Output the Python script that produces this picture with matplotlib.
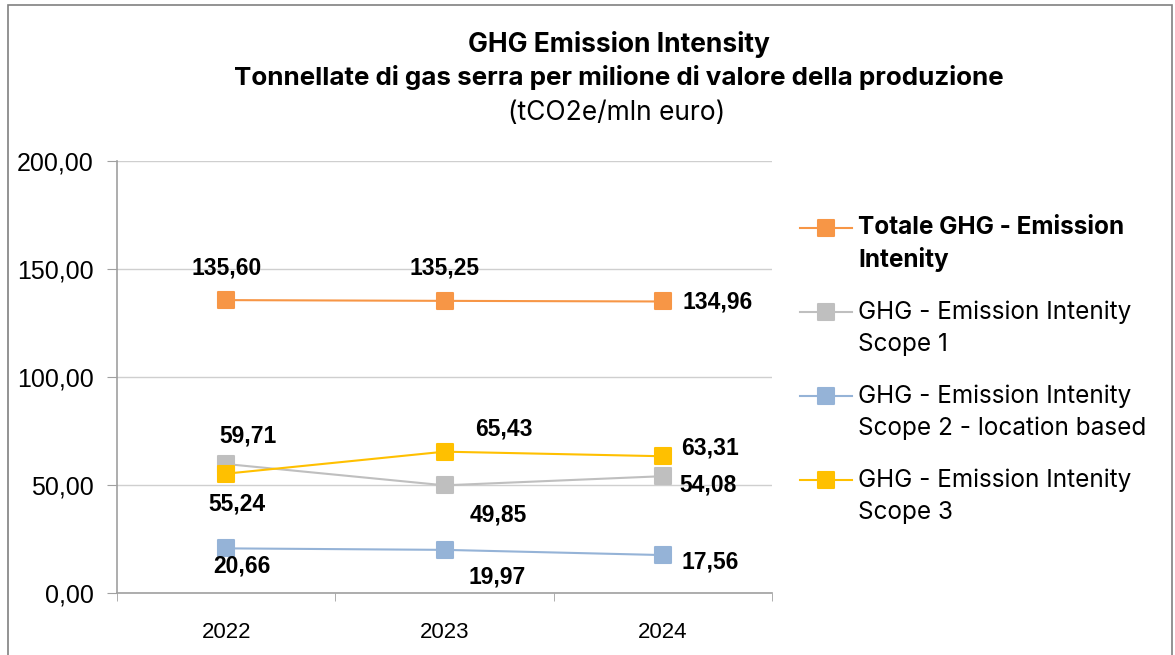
import numpy as np
import matplotlib.pyplot as plt
from matplotlib.lines import Line2D
from matplotlib.markers import MarkerStyle
from matplotlib.patches import Rectangle

years = ["2022", "2023", "2024"]
totale = [135.60, 135.25, 134.96]
scope1 = [59.71, 49.85, 54.08]
scope2 = [20.66, 19.97, 17.56]
scope3 = [55.24, 65.43, 63.31]

series_names = [
    ["Totale GHG - Emission", "Intenity"],
    ["GHG - Emission Intenity", "Scope 1"],
    ["GHG - Emission Intenity", "Scope 2 - location based"],
    ["GHG - Emission Intenity", "Scope 3"],
]
colors = ["#F79646", "#BFBFBF", "#95B3D7", "#FFC000"]

# label offsets in pixels (dx, dy) and horizontal alignment, per series
label_pos = [
    [(0, 32, "center"), (0, 33, "center"), (20, -1, "left")],
    [(22, 28, "center"), (54, -30, "center"), (17, -9, "left")],
    [(16, -18, "center"), (53, -27, "center"), (19, -7, "left")],
    [(11, -30, "center"), (59, 23, "center"), (18, 8, "left")],
]

title_font = ["Inter", "DejaVu Sans"]
num_font = ["Liberation Sans", "DejaVu Sans"]

fig = plt.figure(figsize=(11.75, 6.55), dpi=100)
ax = fig.add_axes([117 / 1175, 1 - 593 / 655, 655 / 1175, 432 / 655])

x = np.arange(len(years))
data = [totale, scope1, scope2, scope3]
marker = MarkerStyle("s", joinstyle="round")

def fmt(v):
    return f"{v:.2f}".replace(".", ",")

for vals, col, pos in zip(data, colors, label_pos):
    ax.plot(x, vals, color=col, lw=1.5, marker=marker, ms=11.5, mec=col, mew=1.5,
            zorder=3, clip_on=False)
    for xi, v, (dx, dy, ha) in zip(x, vals, pos):
        ax.annotate(fmt(v), (xi, v), xytext=(dx, dy), textcoords="offset pixels",
                    ha=ha, va="center", fontsize=16.5, fontweight="bold",
                    family=num_font, color="black", zorder=4)

ax.set_xlim(-0.5, 2.5)
ax.set_ylim(0, 200)
ax.set_yticks([0, 50, 100, 150, 200])
ax.set_yticklabels([fmt(v) for v in [0, 50, 100, 150, 200]], family=num_font, fontsize=18)
ax.set_xticks(x)
ax.set_xticklabels(years, family=num_font, fontsize=16)
ax.set_xticks([-0.5, 0.5, 1.5, 2.5], minor=True)
ax.tick_params(axis="x", which="major", length=0, pad=21)
ax.tick_params(axis="x", which="minor", length=6, color="#A0A0A0", direction="out")
ax.tick_params(axis="y", length=7, color="#A0A0A0", pad=10)
ax.grid(axis="y", color="#CFCFCF", lw=1)
ax.set_axisbelow(True)
for s in ["top", "right"]:
    ax.spines[s].set_visible(False)
for s in ["left", "bottom"]:
    ax.spines[s].set_color("#A0A0A0")
    ax.spines[s].set_linewidth(1.2)

# titles
fig.text(619 / 1175, 1 - 45 / 655, "GHG Emission Intensity", ha="center", va="center",
         fontsize=19, fontweight="bold", family=title_font)
fig.text(619 / 1175, 1 - 78 / 655, "Tonnellate di gas serra per milione di valore della produzione",
         ha="center", va="center", fontsize=18.7, fontweight="bold", family=title_font)
fig.text(617 / 1175, 1 - 113 / 655, "(tCO2e/mln euro)", ha="center", va="center",
         fontsize=19, family=title_font)

# legend
for i, (names, col) in enumerate(zip(series_names, colors)):
    yp = 228 + 84 * i
    yf = 1 - yp / 655
    fig.add_artist(Line2D([800 / 1175, 852 / 1175], [yf, yf], color=col, lw=1.5))
    fig.add_artist(Line2D([826 / 1175], [yf], color=col, marker=marker, ms=11.5,
                          mec=col, mew=1.5))
    w = "bold" if i == 0 else "normal"
    for j, line in enumerate(names):
        fig.text(858 / 1175, 1 - (yp + 32 * j) / 655, line, ha="left", va="center",
                 fontsize=17.5, fontweight=w, family=title_font)

# chart border
fig.add_artist(Rectangle((8 / 1175, -0.02), 1164 / 1175, 1.02 - 5 / 655,
                         transform=fig.transFigure, fill=False, ec="#808080", lw=1.2))

fig.savefig("out.png", dpi=100)
